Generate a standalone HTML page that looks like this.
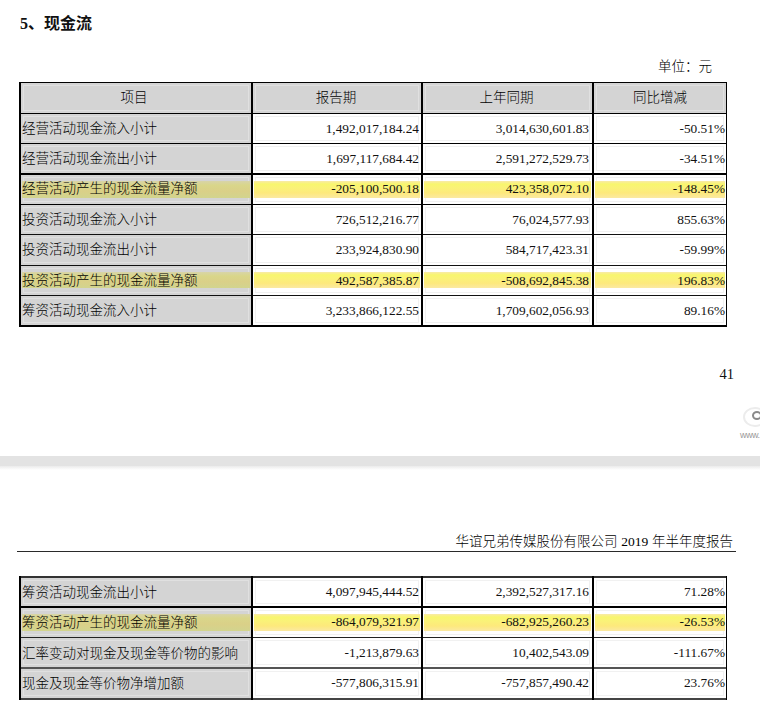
<!DOCTYPE html>
<html><head><meta charset="utf-8"><title>现金流</title>
<style>
html,body{margin:0;padding:0;background:#fff;}
body{width:760px;height:709px;position:relative;overflow:hidden;}
div{position:absolute;white-space:nowrap;}
.c1,.cj{font-family:"Liberation Sans","Noto Sans CJK SC",sans-serif;font-size:13.5px;color:#000;font-weight:300;line-height:30px;height:30px;}
.num{font-family:"Liberation Serif","Noto Serif CJK SC",serif;font-size:13.33px;color:#111;line-height:30px;height:30px;}
.h1{font-family:"Liberation Serif","Noto Sans CJK SC",sans-serif;font-size:16px;font-weight:bold;color:#111;}
</style></head><body>
<div class="h1" style="left:20px;top:14px;line-height:20px;">5、现金流</div>
<div class="cj" style="right:48px;top:52px;">单位：元</div>
<div style="left:19px;top:82px;width:708px;height:31px;background:#d4d4d4;"></div>
<div style="left:19px;top:113px;width:232px;height:30px;background:#d4d4d4;"></div>
<div style="left:19px;top:143px;width:232px;height:30px;background:#d4d4d4;"></div>
<div style="left:19px;top:173px;width:232px;height:31px;background:#d4d4d4;"></div>
<div style="left:19px;top:204px;width:232px;height:30px;background:#d4d4d4;"></div>
<div style="left:19px;top:234px;width:232px;height:31px;background:#d4d4d4;"></div>
<div style="left:19px;top:265px;width:232px;height:30px;background:#d4d4d4;"></div>
<div style="left:19px;top:295px;width:232px;height:30px;background:#d4d4d4;"></div>
<div style="left:23px;top:85px;width:226px;height:1px;background:#e0e0e0;"></div>
<div style="left:23px;top:110px;width:226px;height:1px;background:#e0e0e0;"></div>
<div style="left:23px;top:85px;width:1px;height:26px;background:#e0e0e0;"></div>
<div style="left:248px;top:85px;width:1px;height:26px;background:#e0e0e0;"></div>
<div style="left:255px;top:85px;width:164px;height:1px;background:#e0e0e0;"></div>
<div style="left:255px;top:110px;width:164px;height:1px;background:#e0e0e0;"></div>
<div style="left:255px;top:85px;width:1px;height:26px;background:#e0e0e0;"></div>
<div style="left:418px;top:85px;width:1px;height:26px;background:#e0e0e0;"></div>
<div style="left:425px;top:85px;width:165px;height:1px;background:#e0e0e0;"></div>
<div style="left:425px;top:110px;width:165px;height:1px;background:#e0e0e0;"></div>
<div style="left:425px;top:85px;width:1px;height:26px;background:#e0e0e0;"></div>
<div style="left:589px;top:85px;width:1px;height:26px;background:#e0e0e0;"></div>
<div style="left:596px;top:85px;width:128px;height:1px;background:#e0e0e0;"></div>
<div style="left:596px;top:110px;width:128px;height:1px;background:#e0e0e0;"></div>
<div style="left:596px;top:85px;width:1px;height:26px;background:#e0e0e0;"></div>
<div style="left:723px;top:85px;width:1px;height:26px;background:#e0e0e0;"></div>
<div style="left:23px;top:116px;width:226px;height:1px;background:#e0e0e0;"></div>
<div style="left:23px;top:140px;width:226px;height:1px;background:#e0e0e0;"></div>
<div style="left:23px;top:116px;width:1px;height:25px;background:#e0e0e0;"></div>
<div style="left:248px;top:116px;width:1px;height:25px;background:#e0e0e0;"></div>
<div style="left:255px;top:116px;width:164px;height:1px;background:#f1f1f1;"></div>
<div style="left:255px;top:140px;width:164px;height:1px;background:#f1f1f1;"></div>
<div style="left:255px;top:116px;width:1px;height:25px;background:#f1f1f1;"></div>
<div style="left:418px;top:116px;width:1px;height:25px;background:#f1f1f1;"></div>
<div style="left:425px;top:116px;width:165px;height:1px;background:#f1f1f1;"></div>
<div style="left:425px;top:140px;width:165px;height:1px;background:#f1f1f1;"></div>
<div style="left:425px;top:116px;width:1px;height:25px;background:#f1f1f1;"></div>
<div style="left:589px;top:116px;width:1px;height:25px;background:#f1f1f1;"></div>
<div style="left:596px;top:116px;width:128px;height:1px;background:#f1f1f1;"></div>
<div style="left:596px;top:140px;width:128px;height:1px;background:#f1f1f1;"></div>
<div style="left:596px;top:116px;width:1px;height:25px;background:#f1f1f1;"></div>
<div style="left:723px;top:116px;width:1px;height:25px;background:#f1f1f1;"></div>
<div style="left:23px;top:146px;width:226px;height:1px;background:#e0e0e0;"></div>
<div style="left:23px;top:170px;width:226px;height:1px;background:#e0e0e0;"></div>
<div style="left:23px;top:146px;width:1px;height:25px;background:#e0e0e0;"></div>
<div style="left:248px;top:146px;width:1px;height:25px;background:#e0e0e0;"></div>
<div style="left:255px;top:146px;width:164px;height:1px;background:#f1f1f1;"></div>
<div style="left:255px;top:170px;width:164px;height:1px;background:#f1f1f1;"></div>
<div style="left:255px;top:146px;width:1px;height:25px;background:#f1f1f1;"></div>
<div style="left:418px;top:146px;width:1px;height:25px;background:#f1f1f1;"></div>
<div style="left:425px;top:146px;width:165px;height:1px;background:#f1f1f1;"></div>
<div style="left:425px;top:170px;width:165px;height:1px;background:#f1f1f1;"></div>
<div style="left:425px;top:146px;width:1px;height:25px;background:#f1f1f1;"></div>
<div style="left:589px;top:146px;width:1px;height:25px;background:#f1f1f1;"></div>
<div style="left:596px;top:146px;width:128px;height:1px;background:#f1f1f1;"></div>
<div style="left:596px;top:170px;width:128px;height:1px;background:#f1f1f1;"></div>
<div style="left:596px;top:146px;width:1px;height:25px;background:#f1f1f1;"></div>
<div style="left:723px;top:146px;width:1px;height:25px;background:#f1f1f1;"></div>
<div style="left:23px;top:177px;width:226px;height:1px;background:#e0e0e0;"></div>
<div style="left:23px;top:201px;width:226px;height:1px;background:#e0e0e0;"></div>
<div style="left:23px;top:177px;width:1px;height:25px;background:#e0e0e0;"></div>
<div style="left:248px;top:177px;width:1px;height:25px;background:#e0e0e0;"></div>
<div style="left:255px;top:177px;width:164px;height:1px;background:#f1f1f1;"></div>
<div style="left:255px;top:201px;width:164px;height:1px;background:#f1f1f1;"></div>
<div style="left:255px;top:177px;width:1px;height:25px;background:#f1f1f1;"></div>
<div style="left:418px;top:177px;width:1px;height:25px;background:#f1f1f1;"></div>
<div style="left:425px;top:177px;width:165px;height:1px;background:#f1f1f1;"></div>
<div style="left:425px;top:201px;width:165px;height:1px;background:#f1f1f1;"></div>
<div style="left:425px;top:177px;width:1px;height:25px;background:#f1f1f1;"></div>
<div style="left:589px;top:177px;width:1px;height:25px;background:#f1f1f1;"></div>
<div style="left:596px;top:177px;width:128px;height:1px;background:#f1f1f1;"></div>
<div style="left:596px;top:201px;width:128px;height:1px;background:#f1f1f1;"></div>
<div style="left:596px;top:177px;width:1px;height:25px;background:#f1f1f1;"></div>
<div style="left:723px;top:177px;width:1px;height:25px;background:#f1f1f1;"></div>
<div style="left:23px;top:207px;width:226px;height:1px;background:#e0e0e0;"></div>
<div style="left:23px;top:231px;width:226px;height:1px;background:#e0e0e0;"></div>
<div style="left:23px;top:207px;width:1px;height:25px;background:#e0e0e0;"></div>
<div style="left:248px;top:207px;width:1px;height:25px;background:#e0e0e0;"></div>
<div style="left:255px;top:207px;width:164px;height:1px;background:#f1f1f1;"></div>
<div style="left:255px;top:231px;width:164px;height:1px;background:#f1f1f1;"></div>
<div style="left:255px;top:207px;width:1px;height:25px;background:#f1f1f1;"></div>
<div style="left:418px;top:207px;width:1px;height:25px;background:#f1f1f1;"></div>
<div style="left:425px;top:207px;width:165px;height:1px;background:#f1f1f1;"></div>
<div style="left:425px;top:231px;width:165px;height:1px;background:#f1f1f1;"></div>
<div style="left:425px;top:207px;width:1px;height:25px;background:#f1f1f1;"></div>
<div style="left:589px;top:207px;width:1px;height:25px;background:#f1f1f1;"></div>
<div style="left:596px;top:207px;width:128px;height:1px;background:#f1f1f1;"></div>
<div style="left:596px;top:231px;width:128px;height:1px;background:#f1f1f1;"></div>
<div style="left:596px;top:207px;width:1px;height:25px;background:#f1f1f1;"></div>
<div style="left:723px;top:207px;width:1px;height:25px;background:#f1f1f1;"></div>
<div style="left:23px;top:237px;width:226px;height:1px;background:#e0e0e0;"></div>
<div style="left:23px;top:262px;width:226px;height:1px;background:#e0e0e0;"></div>
<div style="left:23px;top:237px;width:1px;height:26px;background:#e0e0e0;"></div>
<div style="left:248px;top:237px;width:1px;height:26px;background:#e0e0e0;"></div>
<div style="left:255px;top:237px;width:164px;height:1px;background:#f1f1f1;"></div>
<div style="left:255px;top:262px;width:164px;height:1px;background:#f1f1f1;"></div>
<div style="left:255px;top:237px;width:1px;height:26px;background:#f1f1f1;"></div>
<div style="left:418px;top:237px;width:1px;height:26px;background:#f1f1f1;"></div>
<div style="left:425px;top:237px;width:165px;height:1px;background:#f1f1f1;"></div>
<div style="left:425px;top:262px;width:165px;height:1px;background:#f1f1f1;"></div>
<div style="left:425px;top:237px;width:1px;height:26px;background:#f1f1f1;"></div>
<div style="left:589px;top:237px;width:1px;height:26px;background:#f1f1f1;"></div>
<div style="left:596px;top:237px;width:128px;height:1px;background:#f1f1f1;"></div>
<div style="left:596px;top:262px;width:128px;height:1px;background:#f1f1f1;"></div>
<div style="left:596px;top:237px;width:1px;height:26px;background:#f1f1f1;"></div>
<div style="left:723px;top:237px;width:1px;height:26px;background:#f1f1f1;"></div>
<div style="left:23px;top:268px;width:226px;height:1px;background:#e0e0e0;"></div>
<div style="left:23px;top:292px;width:226px;height:1px;background:#e0e0e0;"></div>
<div style="left:23px;top:268px;width:1px;height:25px;background:#e0e0e0;"></div>
<div style="left:248px;top:268px;width:1px;height:25px;background:#e0e0e0;"></div>
<div style="left:255px;top:268px;width:164px;height:1px;background:#f1f1f1;"></div>
<div style="left:255px;top:292px;width:164px;height:1px;background:#f1f1f1;"></div>
<div style="left:255px;top:268px;width:1px;height:25px;background:#f1f1f1;"></div>
<div style="left:418px;top:268px;width:1px;height:25px;background:#f1f1f1;"></div>
<div style="left:425px;top:268px;width:165px;height:1px;background:#f1f1f1;"></div>
<div style="left:425px;top:292px;width:165px;height:1px;background:#f1f1f1;"></div>
<div style="left:425px;top:268px;width:1px;height:25px;background:#f1f1f1;"></div>
<div style="left:589px;top:268px;width:1px;height:25px;background:#f1f1f1;"></div>
<div style="left:596px;top:268px;width:128px;height:1px;background:#f1f1f1;"></div>
<div style="left:596px;top:292px;width:128px;height:1px;background:#f1f1f1;"></div>
<div style="left:596px;top:268px;width:1px;height:25px;background:#f1f1f1;"></div>
<div style="left:723px;top:268px;width:1px;height:25px;background:#f1f1f1;"></div>
<div style="left:23px;top:298px;width:226px;height:1px;background:#e0e0e0;"></div>
<div style="left:23px;top:322px;width:226px;height:1px;background:#e0e0e0;"></div>
<div style="left:23px;top:298px;width:1px;height:25px;background:#e0e0e0;"></div>
<div style="left:248px;top:298px;width:1px;height:25px;background:#e0e0e0;"></div>
<div style="left:255px;top:298px;width:164px;height:1px;background:#f1f1f1;"></div>
<div style="left:255px;top:322px;width:164px;height:1px;background:#f1f1f1;"></div>
<div style="left:255px;top:298px;width:1px;height:25px;background:#f1f1f1;"></div>
<div style="left:418px;top:298px;width:1px;height:25px;background:#f1f1f1;"></div>
<div style="left:425px;top:298px;width:165px;height:1px;background:#f1f1f1;"></div>
<div style="left:425px;top:322px;width:165px;height:1px;background:#f1f1f1;"></div>
<div style="left:425px;top:298px;width:1px;height:25px;background:#f1f1f1;"></div>
<div style="left:589px;top:298px;width:1px;height:25px;background:#f1f1f1;"></div>
<div style="left:596px;top:298px;width:128px;height:1px;background:#f1f1f1;"></div>
<div style="left:596px;top:322px;width:128px;height:1px;background:#f1f1f1;"></div>
<div style="left:596px;top:298px;width:1px;height:25px;background:#f1f1f1;"></div>
<div style="left:723px;top:298px;width:1px;height:25px;background:#f1f1f1;"></div>
<div style="left:22px;top:181px;width:228px;height:17px;background:linear-gradient(#d8d4a8 0%,#d9d68a 25%,#dad088 60%,#d2d48e 100%);"></div>
<div style="left:254px;top:181px;width:166px;height:17px;background:linear-gradient(#f9eaa8 0%,#f8f66e 18%,#faf278 40%,#fde97c 70%,#fbe9a2 100%);"></div>
<div style="left:424px;top:181px;width:167px;height:17px;background:linear-gradient(#f9eaa8 0%,#f8f66e 18%,#faf278 40%,#fde97c 70%,#fbe9a2 100%);"></div>
<div style="left:595px;top:181px;width:130px;height:17px;background:linear-gradient(#f9eaa8 0%,#f8f66e 18%,#faf278 40%,#fde97c 70%,#fbe9a2 100%);"></div>
<div style="left:22px;top:272px;width:228px;height:16px;background:linear-gradient(#d8d4a8 0%,#d9d68a 25%,#dad088 60%,#d2d48e 100%);"></div>
<div style="left:254px;top:272px;width:166px;height:16px;background:linear-gradient(#f9eaa8 0%,#f8f66e 18%,#faf278 40%,#fde97c 70%,#fbe9a2 100%);"></div>
<div style="left:424px;top:272px;width:167px;height:16px;background:linear-gradient(#f9eaa8 0%,#f8f66e 18%,#faf278 40%,#fde97c 70%,#fbe9a2 100%);"></div>
<div style="left:595px;top:272px;width:130px;height:16px;background:linear-gradient(#f9eaa8 0%,#f8f66e 18%,#faf278 40%,#fde97c 70%,#fbe9a2 100%);"></div>
<div style="left:19px;top:82px;width:708px;height:1px;background:#000;"></div>
<div style="left:19px;top:113px;width:708px;height:1px;background:#000;"></div>
<div style="left:19px;top:143px;width:708px;height:1px;background:#000;"></div>
<div style="left:19px;top:173px;width:708px;height:2px;background:#000;"></div>
<div style="left:19px;top:204px;width:708px;height:1px;background:#000;"></div>
<div style="left:19px;top:234px;width:708px;height:1px;background:#111;"></div>
<div style="left:19px;top:265px;width:708px;height:1px;background:#111;"></div>
<div style="left:19px;top:295px;width:708px;height:1px;background:#111;"></div>
<div style="left:19px;top:325px;width:708px;height:2px;background:#000;"></div>
<div style="left:19px;top:82px;width:2px;height:245px;background:#000;"></div>
<div style="left:251px;top:82px;width:2px;height:245px;background:#000;"></div>
<div style="left:421px;top:82px;width:2px;height:245px;background:#000;"></div>
<div style="left:592px;top:82px;width:2px;height:245px;background:#000;"></div>
<div style="left:726px;top:82px;width:1px;height:245px;background:#000;"></div>
<div class="c1" style="left:19px;width:230px;text-align:center;top:83px;">项目</div>
<div class="c1" style="left:252px;width:168px;text-align:center;top:83px;">报告期</div>
<div class="c1" style="left:422px;width:169px;text-align:center;top:83px;">上年同期</div>
<div class="c1" style="left:594px;width:132px;text-align:center;top:83px;">同比增减</div>
<div class="c1" style="left:22px;top:114px;">经营活动现金流入小计</div>
<div class="num" style="right:341px;top:114px;">1,492,017,184.24</div>
<div class="num" style="right:171px;top:114px;">3,014,630,601.83</div>
<div class="num" style="right:35px;top:114px;">-50.51%</div>
<div class="c1" style="left:22px;top:144px;">经营活动现金流出小计</div>
<div class="num" style="right:341px;top:144px;">1,697,117,684.42</div>
<div class="num" style="right:171px;top:144px;">2,591,272,529.73</div>
<div class="num" style="right:35px;top:144px;">-34.51%</div>
<div class="c1" style="left:22px;top:174px;">经营活动产生的现金流量净额</div>
<div class="num" style="right:341px;top:174px;">-205,100,500.18</div>
<div class="num" style="right:171px;top:174px;">423,358,072.10</div>
<div class="num" style="right:35px;top:174px;">-148.45%</div>
<div class="c1" style="left:22px;top:205px;">投资活动现金流入小计</div>
<div class="num" style="right:341px;top:205px;">726,512,216.77</div>
<div class="num" style="right:171px;top:205px;">76,024,577.93</div>
<div class="num" style="right:35px;top:205px;">855.63%</div>
<div class="c1" style="left:22px;top:235px;">投资活动现金流出小计</div>
<div class="num" style="right:341px;top:235px;">233,924,830.90</div>
<div class="num" style="right:171px;top:235px;">584,717,423.31</div>
<div class="num" style="right:35px;top:235px;">-59.99%</div>
<div class="c1" style="left:22px;top:266px;">投资活动产生的现金流量净额</div>
<div class="num" style="right:341px;top:266px;">492,587,385.87</div>
<div class="num" style="right:171px;top:266px;">-508,692,845.38</div>
<div class="num" style="right:35px;top:266px;">196.83%</div>
<div class="c1" style="left:22px;top:296px;">筹资活动现金流入小计</div>
<div class="num" style="right:341px;top:296px;">3,233,866,122.55</div>
<div class="num" style="right:171px;top:296px;">1,709,602,056.93</div>
<div class="num" style="right:35px;top:296px;">89.16%</div>
<div style="left:19px;top:576px;width:232px;height:30px;background:#d4d4d4;"></div>
<div style="left:19px;top:606px;width:232px;height:31px;background:#d4d4d4;"></div>
<div style="left:19px;top:637px;width:232px;height:30px;background:#d4d4d4;"></div>
<div style="left:19px;top:667px;width:232px;height:31px;background:#d4d4d4;"></div>
<div style="left:23px;top:580px;width:226px;height:1px;background:#e0e0e0;"></div>
<div style="left:23px;top:603px;width:226px;height:1px;background:#e0e0e0;"></div>
<div style="left:23px;top:580px;width:1px;height:24px;background:#e0e0e0;"></div>
<div style="left:248px;top:580px;width:1px;height:24px;background:#e0e0e0;"></div>
<div style="left:255px;top:580px;width:164px;height:1px;background:#f1f1f1;"></div>
<div style="left:255px;top:603px;width:164px;height:1px;background:#f1f1f1;"></div>
<div style="left:255px;top:580px;width:1px;height:24px;background:#f1f1f1;"></div>
<div style="left:418px;top:580px;width:1px;height:24px;background:#f1f1f1;"></div>
<div style="left:425px;top:580px;width:165px;height:1px;background:#f1f1f1;"></div>
<div style="left:425px;top:603px;width:165px;height:1px;background:#f1f1f1;"></div>
<div style="left:425px;top:580px;width:1px;height:24px;background:#f1f1f1;"></div>
<div style="left:589px;top:580px;width:1px;height:24px;background:#f1f1f1;"></div>
<div style="left:596px;top:580px;width:128px;height:1px;background:#f1f1f1;"></div>
<div style="left:596px;top:603px;width:128px;height:1px;background:#f1f1f1;"></div>
<div style="left:596px;top:580px;width:1px;height:24px;background:#f1f1f1;"></div>
<div style="left:723px;top:580px;width:1px;height:24px;background:#f1f1f1;"></div>
<div style="left:23px;top:610px;width:226px;height:1px;background:#e0e0e0;"></div>
<div style="left:23px;top:634px;width:226px;height:1px;background:#e0e0e0;"></div>
<div style="left:23px;top:610px;width:1px;height:25px;background:#e0e0e0;"></div>
<div style="left:248px;top:610px;width:1px;height:25px;background:#e0e0e0;"></div>
<div style="left:255px;top:610px;width:164px;height:1px;background:#f1f1f1;"></div>
<div style="left:255px;top:634px;width:164px;height:1px;background:#f1f1f1;"></div>
<div style="left:255px;top:610px;width:1px;height:25px;background:#f1f1f1;"></div>
<div style="left:418px;top:610px;width:1px;height:25px;background:#f1f1f1;"></div>
<div style="left:425px;top:610px;width:165px;height:1px;background:#f1f1f1;"></div>
<div style="left:425px;top:634px;width:165px;height:1px;background:#f1f1f1;"></div>
<div style="left:425px;top:610px;width:1px;height:25px;background:#f1f1f1;"></div>
<div style="left:589px;top:610px;width:1px;height:25px;background:#f1f1f1;"></div>
<div style="left:596px;top:610px;width:128px;height:1px;background:#f1f1f1;"></div>
<div style="left:596px;top:634px;width:128px;height:1px;background:#f1f1f1;"></div>
<div style="left:596px;top:610px;width:1px;height:25px;background:#f1f1f1;"></div>
<div style="left:723px;top:610px;width:1px;height:25px;background:#f1f1f1;"></div>
<div style="left:23px;top:640px;width:226px;height:1px;background:#e0e0e0;"></div>
<div style="left:23px;top:664px;width:226px;height:1px;background:#e0e0e0;"></div>
<div style="left:23px;top:640px;width:1px;height:25px;background:#e0e0e0;"></div>
<div style="left:248px;top:640px;width:1px;height:25px;background:#e0e0e0;"></div>
<div style="left:255px;top:640px;width:164px;height:1px;background:#f1f1f1;"></div>
<div style="left:255px;top:664px;width:164px;height:1px;background:#f1f1f1;"></div>
<div style="left:255px;top:640px;width:1px;height:25px;background:#f1f1f1;"></div>
<div style="left:418px;top:640px;width:1px;height:25px;background:#f1f1f1;"></div>
<div style="left:425px;top:640px;width:165px;height:1px;background:#f1f1f1;"></div>
<div style="left:425px;top:664px;width:165px;height:1px;background:#f1f1f1;"></div>
<div style="left:425px;top:640px;width:1px;height:25px;background:#f1f1f1;"></div>
<div style="left:589px;top:640px;width:1px;height:25px;background:#f1f1f1;"></div>
<div style="left:596px;top:640px;width:128px;height:1px;background:#f1f1f1;"></div>
<div style="left:596px;top:664px;width:128px;height:1px;background:#f1f1f1;"></div>
<div style="left:596px;top:640px;width:1px;height:25px;background:#f1f1f1;"></div>
<div style="left:723px;top:640px;width:1px;height:25px;background:#f1f1f1;"></div>
<div style="left:23px;top:671px;width:226px;height:1px;background:#e0e0e0;"></div>
<div style="left:23px;top:695px;width:226px;height:1px;background:#e0e0e0;"></div>
<div style="left:23px;top:671px;width:1px;height:25px;background:#e0e0e0;"></div>
<div style="left:248px;top:671px;width:1px;height:25px;background:#e0e0e0;"></div>
<div style="left:255px;top:671px;width:164px;height:1px;background:#f1f1f1;"></div>
<div style="left:255px;top:695px;width:164px;height:1px;background:#f1f1f1;"></div>
<div style="left:255px;top:671px;width:1px;height:25px;background:#f1f1f1;"></div>
<div style="left:418px;top:671px;width:1px;height:25px;background:#f1f1f1;"></div>
<div style="left:425px;top:671px;width:165px;height:1px;background:#f1f1f1;"></div>
<div style="left:425px;top:695px;width:165px;height:1px;background:#f1f1f1;"></div>
<div style="left:425px;top:671px;width:1px;height:25px;background:#f1f1f1;"></div>
<div style="left:589px;top:671px;width:1px;height:25px;background:#f1f1f1;"></div>
<div style="left:596px;top:671px;width:128px;height:1px;background:#f1f1f1;"></div>
<div style="left:596px;top:695px;width:128px;height:1px;background:#f1f1f1;"></div>
<div style="left:596px;top:671px;width:1px;height:25px;background:#f1f1f1;"></div>
<div style="left:723px;top:671px;width:1px;height:25px;background:#f1f1f1;"></div>
<div style="left:22px;top:614px;width:228px;height:17px;background:linear-gradient(#d8d4a8 0%,#d9d68a 25%,#dad088 60%,#d2d48e 100%);"></div>
<div style="left:254px;top:614px;width:166px;height:17px;background:linear-gradient(#f9eaa8 0%,#f8f66e 18%,#faf278 40%,#fde97c 70%,#fbe9a2 100%);"></div>
<div style="left:424px;top:614px;width:167px;height:17px;background:linear-gradient(#f9eaa8 0%,#f8f66e 18%,#faf278 40%,#fde97c 70%,#fbe9a2 100%);"></div>
<div style="left:595px;top:614px;width:130px;height:17px;background:linear-gradient(#f9eaa8 0%,#f8f66e 18%,#faf278 40%,#fde97c 70%,#fbe9a2 100%);"></div>
<div style="left:19px;top:576px;width:708px;height:2px;background:#333;"></div>
<div style="left:19px;top:606px;width:708px;height:2px;background:#000;"></div>
<div style="left:19px;top:637px;width:708px;height:1px;background:#222;"></div>
<div style="left:19px;top:667px;width:708px;height:2px;background:#555;"></div>
<div style="left:19px;top:698px;width:708px;height:2px;background:#444;"></div>
<div style="left:19px;top:576px;width:2px;height:124px;background:#000;"></div>
<div style="left:251px;top:576px;width:2px;height:124px;background:#000;"></div>
<div style="left:421px;top:576px;width:2px;height:124px;background:#000;"></div>
<div style="left:592px;top:576px;width:2px;height:124px;background:#000;"></div>
<div style="left:726px;top:576px;width:1px;height:124px;background:#000;"></div>
<div class="c1" style="left:22px;top:578px;">筹资活动现金流出小计</div>
<div class="num" style="right:341px;top:577px;">4,097,945,444.52</div>
<div class="num" style="right:171px;top:577px;">2,392,527,317.16</div>
<div class="num" style="right:35px;top:577px;">71.28%</div>
<div class="c1" style="left:22px;top:608px;">筹资活动产生的现金流量净额</div>
<div class="num" style="right:341px;top:607px;">-864,079,321.97</div>
<div class="num" style="right:171px;top:607px;">-682,925,260.23</div>
<div class="num" style="right:35px;top:607px;">-26.53%</div>
<div class="c1" style="left:22px;top:639px;">汇率变动对现金及现金等价物的影响</div>
<div class="num" style="right:341px;top:638px;">-1,213,879.63</div>
<div class="num" style="right:171px;top:638px;">10,402,543.09</div>
<div class="num" style="right:35px;top:638px;">-111.67%</div>
<div class="c1" style="left:22px;top:669px;">现金及现金等价物净增加额</div>
<div class="num" style="right:341px;top:668px;">-577,806,315.91</div>
<div class="num" style="right:171px;top:668px;">-757,857,490.42</div>
<div class="num" style="right:35px;top:668px;">23.76%</div>
<div style="left:0;top:456px;width:760px;height:10px;background:#e3e3e3;"></div>
<div style="left:0;top:466px;width:760px;height:4px;background:linear-gradient(#ebebeb,#fff);"></div>
<div style="left:17px;top:551px;width:719px;height:1px;background:#2a2a2a;"></div>
<div class="num" style="right:26px;top:359px;font-size:14.5px;">41</div>
<div class="cj" style="right:27px;top:527px;">华谊兄弟传媒股份有限公司 <span style='font-family:"Liberation Serif","Noto Serif CJK SC",serif;'>2019</span> 年半年度报告</div>
<div style="left:743px;top:407px;width:20px;height:16px;border:2px solid #ececec;border-radius:50%;"></div>
<div style="left:752px;top:411px;width:6px;height:5px;border:2px solid #8a8a8a;border-radius:50%;"></div>
<div class="cj" style="left:740px;top:430px;font-size:9px;color:#9a9a9a;line-height:10px;height:10px;letter-spacing:-0.5px;">www.</div>
</body></html>
